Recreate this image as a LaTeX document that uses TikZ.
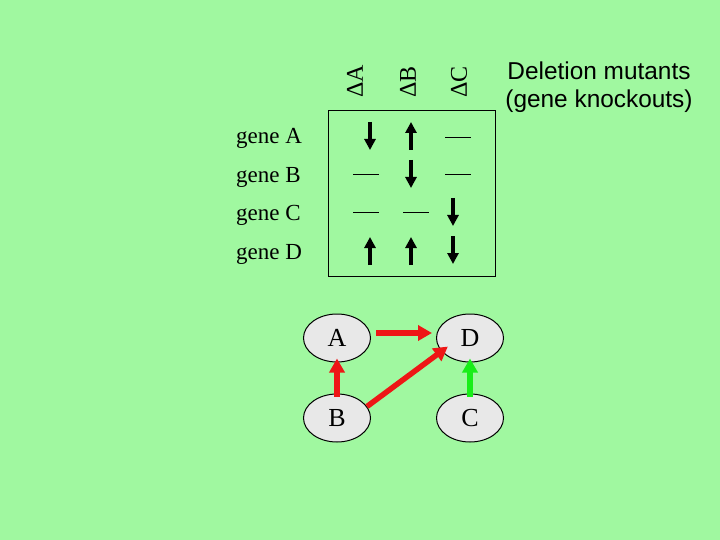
\documentclass[tikz,border=0pt]{standalone}
\usepackage{fontspec}
\setmainfont{Liberation Serif}
\newfontfamily\arialfont{Liberation Sans}
\usetikzlibrary{arrows.meta,shapes.geometric}
\definecolor{bg}{RGB}{160,248,160}
\definecolor{nodefill}{RGB}{232,232,232}
\definecolor{redarr}{RGB}{238,22,22}
\definecolor{greenarr}{RGB}{24,238,24}
\begin{document}
\begin{tikzpicture}[x=1pt,y=-1pt,
  gene/.style={font=\fontsize{23}{23}\selectfont, anchor=base west, inner sep=0pt},
  delta/.style={font=\fontsize{24}{24}\selectfont, rotate=90, anchor=west, inner sep=0pt},
  ell/.style={ellipse, draw, fill=nodefill, line width=1pt, minimum width=67pt, minimum height=48pt, inner sep=0pt, font=\fontsize{26}{26}\selectfont},
  kup/.style={line width=3.4pt, -{Triangle[length=11pt,width=11pt]}},
  dash line/.style={line width=0.8pt},
  bigarrow/.style={line width=5.5pt, -{Triangle[length=14pt,width=15pt]}}
]
\fill[bg] (0,0) rectangle (720,540);
\useasboundingbox (0,0) rectangle (720,540);

% column headers
\node[delta] (dA) at (355,98) {ΔA};
\node[delta] (dB) at (408,98) {ΔB};
\node[delta] (dC) at (459,98) {ΔC};

\node[font=\arialfont\fontsize{24.4}{28.5}\selectfont, align=center] (title) at (599,87) {Deletion mutants\\(gene knockouts)};

% row labels
\node[gene] (gA) at (236,144) {gene A};
\node[gene] (gB) at (236,183) {gene B};
\node[gene] (gC) at (236,221) {gene C};
\node[gene] (gD) at (236,259) {gene D};

% table frame
\draw[line width=1pt] (328,111) rectangle (495,276);

% row A
\draw[kup] (370,122) -- (370,150);
\draw[kup] (411,150) -- (411,122);
\draw[dash line] (445,137) -- (471,137);
% row B
\draw[dash line] (353,174) -- (379,174);
\draw[kup] (411,160) -- (411,188);
\draw[dash line] (445,174) -- (471,174);
% row C
\draw[dash line] (353,212) -- (379,212);
\draw[dash line] (403,212) -- (429,212);
\draw[kup] (453,198) -- (453,226);
% row D
\draw[kup] (370,265) -- (370,237);
\draw[kup] (411,265) -- (411,237);
\draw[kup] (453,236) -- (453,264);

% network
\node[ell] (A) at (337,338) {A};
\node[ell] (D) at (470,338) {D};
\node[ell] (B) at (337,418) {B};
\node[ell] (C) at (470,418) {C};

\draw[bigarrow, redarr] ([xshift=5pt,yshift=5pt]A.east) -- ([xshift=-4pt,yshift=5pt]D.west);
\draw[bigarrow, redarr, shorten <=-3pt, shorten >=-4pt] (B.north) -- (A.south);
\draw[bigarrow, redarr, shorten >=-8pt] (B.21) -- (D.205);
\draw[bigarrow, greenarr, shorten <=-3pt, shorten >=-4pt] (C.north) -- (D.south);
\end{tikzpicture}
\end{document}
